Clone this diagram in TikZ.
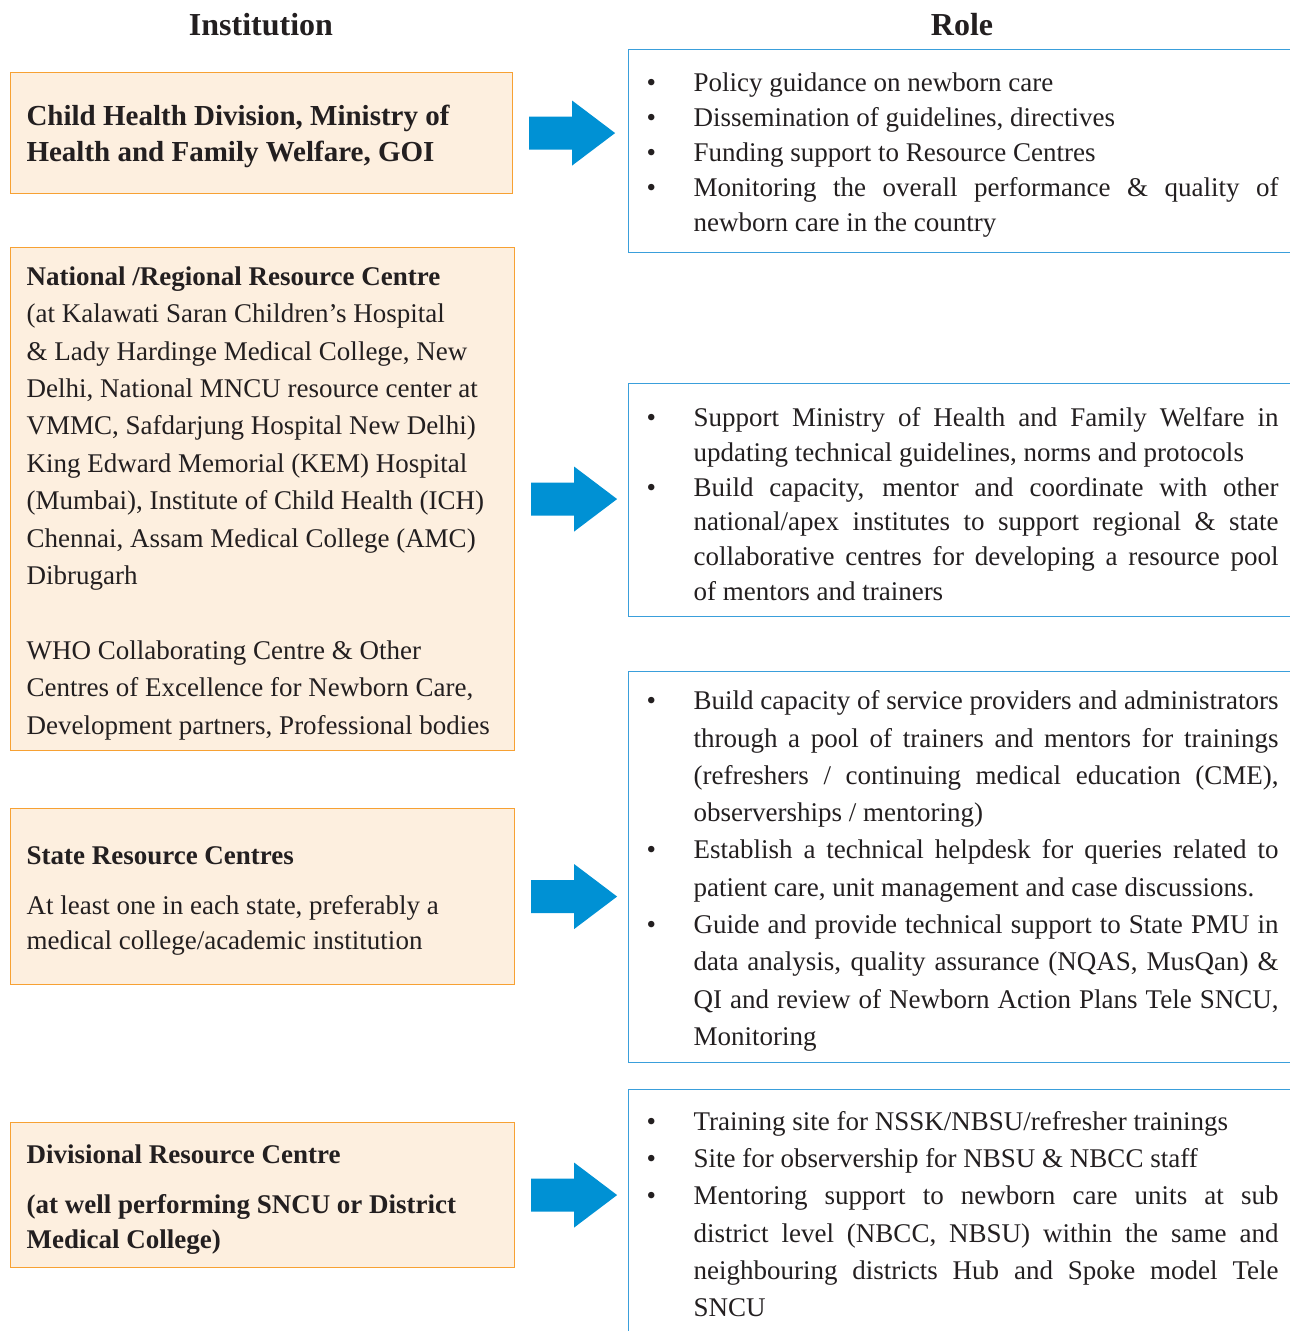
\documentclass[tikz,border=0pt]{standalone}
\usepackage{fontspec}
\setmainfont{Liberation Serif}
\usepackage{xcolor}
\usetikzlibrary{positioning,calc}
\definecolor{cream}{HTML}{FDEFDF}
\definecolor{amber}{HTML}{F7A133}
\definecolor{sky}{HTML}{3A9FDB}
\definecolor{azure}{HTML}{0091D4}
\definecolor{ink}{HTML}{231F20}
\hyphenpenalty=10000
\exhyphenpenalty=10000
\newcommand{\bul}{\makebox[43pt][l]{\hspace*{-4pt}\textbullet}}
\newcommand{\ind}{\hspace*{43pt}}
\newcommand{\jl}[1]{{\spaceskip=0pt\xspaceskip=0pt\makebox[585pt][s]{#1}}}
\newcommand{\topstrut}{\rule{0pt}{27pt}}

\begin{document}
\begin{tikzpicture}[x=1pt,y=-1pt,
  inst/.style={draw=amber, fill=cream, line width=1.1pt, anchor=north west,
    inner xsep=16pt, inner ysep=0pt, text width=472pt, align=justify, text=ink,
    font=\fontsize{27}{37.4}\selectfont, execute at begin node=\topstrut},
  role/.style={draw=sky, line width=1.1pt, anchor=north west, inner xsep=22pt,
    inner ysep=0pt, text width=628pt, align=justify, text=ink,
    font=\fontsize{27}{35}\selectfont, execute at begin node=\topstrut},
  head/.style={font=\fontsize{32}{38}\selectfont\bfseries, text=ink}]
  \useasboundingbox (0,0) rectangle (1290,1331);
  \clip (0,0) rectangle (1290,1331);
  \node[head] (insthead) at (261,25) {Institution};
  \node[head] (rolehead) at (962,25) {Role};

  \node[inst, text width=470pt, minimum height=121pt,
    font=\fontsize{29}{36}\selectfont\bfseries] (inst1) at (10,72)
    {Child Health Division, Ministry of\\ Health and Family Welfare, GOI};
  \node[inst, minimum height=503pt] (inst2) at (10,247)
    {\textbf{National /Regional Resource Centre}\\
     (at Kalawati Saran Children’s Hospital\\
     \& Lady Hardinge Medical College, New\\
     Delhi, National MNCU resource center at\\
     VMMC, Safdarjung Hospital New Delhi)\\
     King Edward Memorial (KEM) Hospital\\
     (Mumbai), Institute of Child Health (ICH)\\
     Chennai, Assam Medical College (AMC)\\
     Dibrugarh\\[37.4pt]
     WHO Collaborating Centre \& Other\\
     Centres of Excellence for Newborn Care,\\
     Development partners, Professional bodies};
  \node[inst, minimum height=176pt, font=\fontsize{27}{35}\selectfont] (inst3) at (10,808)
    {\textbf{State Resource Centres}\\[15pt]
     At least one in each state, preferably a\\
     medical college/academic institution};
  \node[inst, minimum height=145pt, font=\fontsize{27}{35}\selectfont\bfseries] (inst4) at (10,1122)
    {Divisional Resource Centre\\[15pt]
     (at well performing SNCU or District\\
     Medical College)};

  \node[role, minimum height=203pt] (role1) at (628,49)
    {\bul Policy guidance on newborn care\\
     \bul Dissemination of guidelines, directives\\
     \bul Funding support to Resource Centres\\
     \bul \jl{Monitoring the overall performance \& quality of}\\
     \ind newborn care in the country};
  \node[role, minimum height=233pt, font=\fontsize{27}{34.8}\selectfont] (role2) at (628,383)
    {\bul \jl{Support Ministry of Health and Family Welfare in}\\
     \ind updating technical guidelines, norms and protocols\\
     \bul \jl{Build capacity, mentor and coordinate with other}\\
     \ind \jl{national/apex institutes to support regional \& state}\\
     \ind \jl{collaborative centres for developing a resource pool}\\
     \ind of mentors and trainers};
  \node[role, minimum height=306pt, font=\fontsize{27}{37.2}\selectfont] (role4) at (628,1089)
    {\bul Training site for NSSK/NBSU/refresher trainings\\
     \bul Site for observership for NBSU \& NBCC staff\\
     \bul \jl{Mentoring support to newborn care units at sub}\\
     \ind \jl{district level (NBCC, NBSU) within the same and}\\
     \ind \jl{neighbouring districts Hub and Spoke model Tele}\\
     \ind SNCU\rule[-65pt]{0pt}{65pt}};
  \node[role, minimum height=391pt, font=\fontsize{27}{37.3}\selectfont] (role3) at (628,671)
    {\bul \jl{Build capacity of service providers and administrators}\\
     \ind \jl{through a pool of trainers and mentors for trainings}\\
     \ind \jl{(refreshers / continuing medical education (CME),}\\
     \ind observerships / mentoring)\\
     \bul \jl{Establish a technical helpdesk for queries related to}\\
     \ind patient care, unit management and case discussions.\\
     \bul \jl{Guide and provide technical support to State PMU in}\\
     \ind \jl{data analysis, quality assurance (NQAS, MusQan) \&}\\
     \ind \jl{QI and review of Newborn Action Plans Tele SNCU,}\\
     \ind Monitoring};

  \foreach \n in {1,...,4}
    \fill[azure] ($(inst\n.east)+(16,16.5)$) -- ++(43,0) -- ++(0,16)
      -- ++(43,-32.5) -- ++(-43,-32.5) -- ++(0,16) -- ++(-43,0) -- cycle;
\end{tikzpicture}
\end{document}
